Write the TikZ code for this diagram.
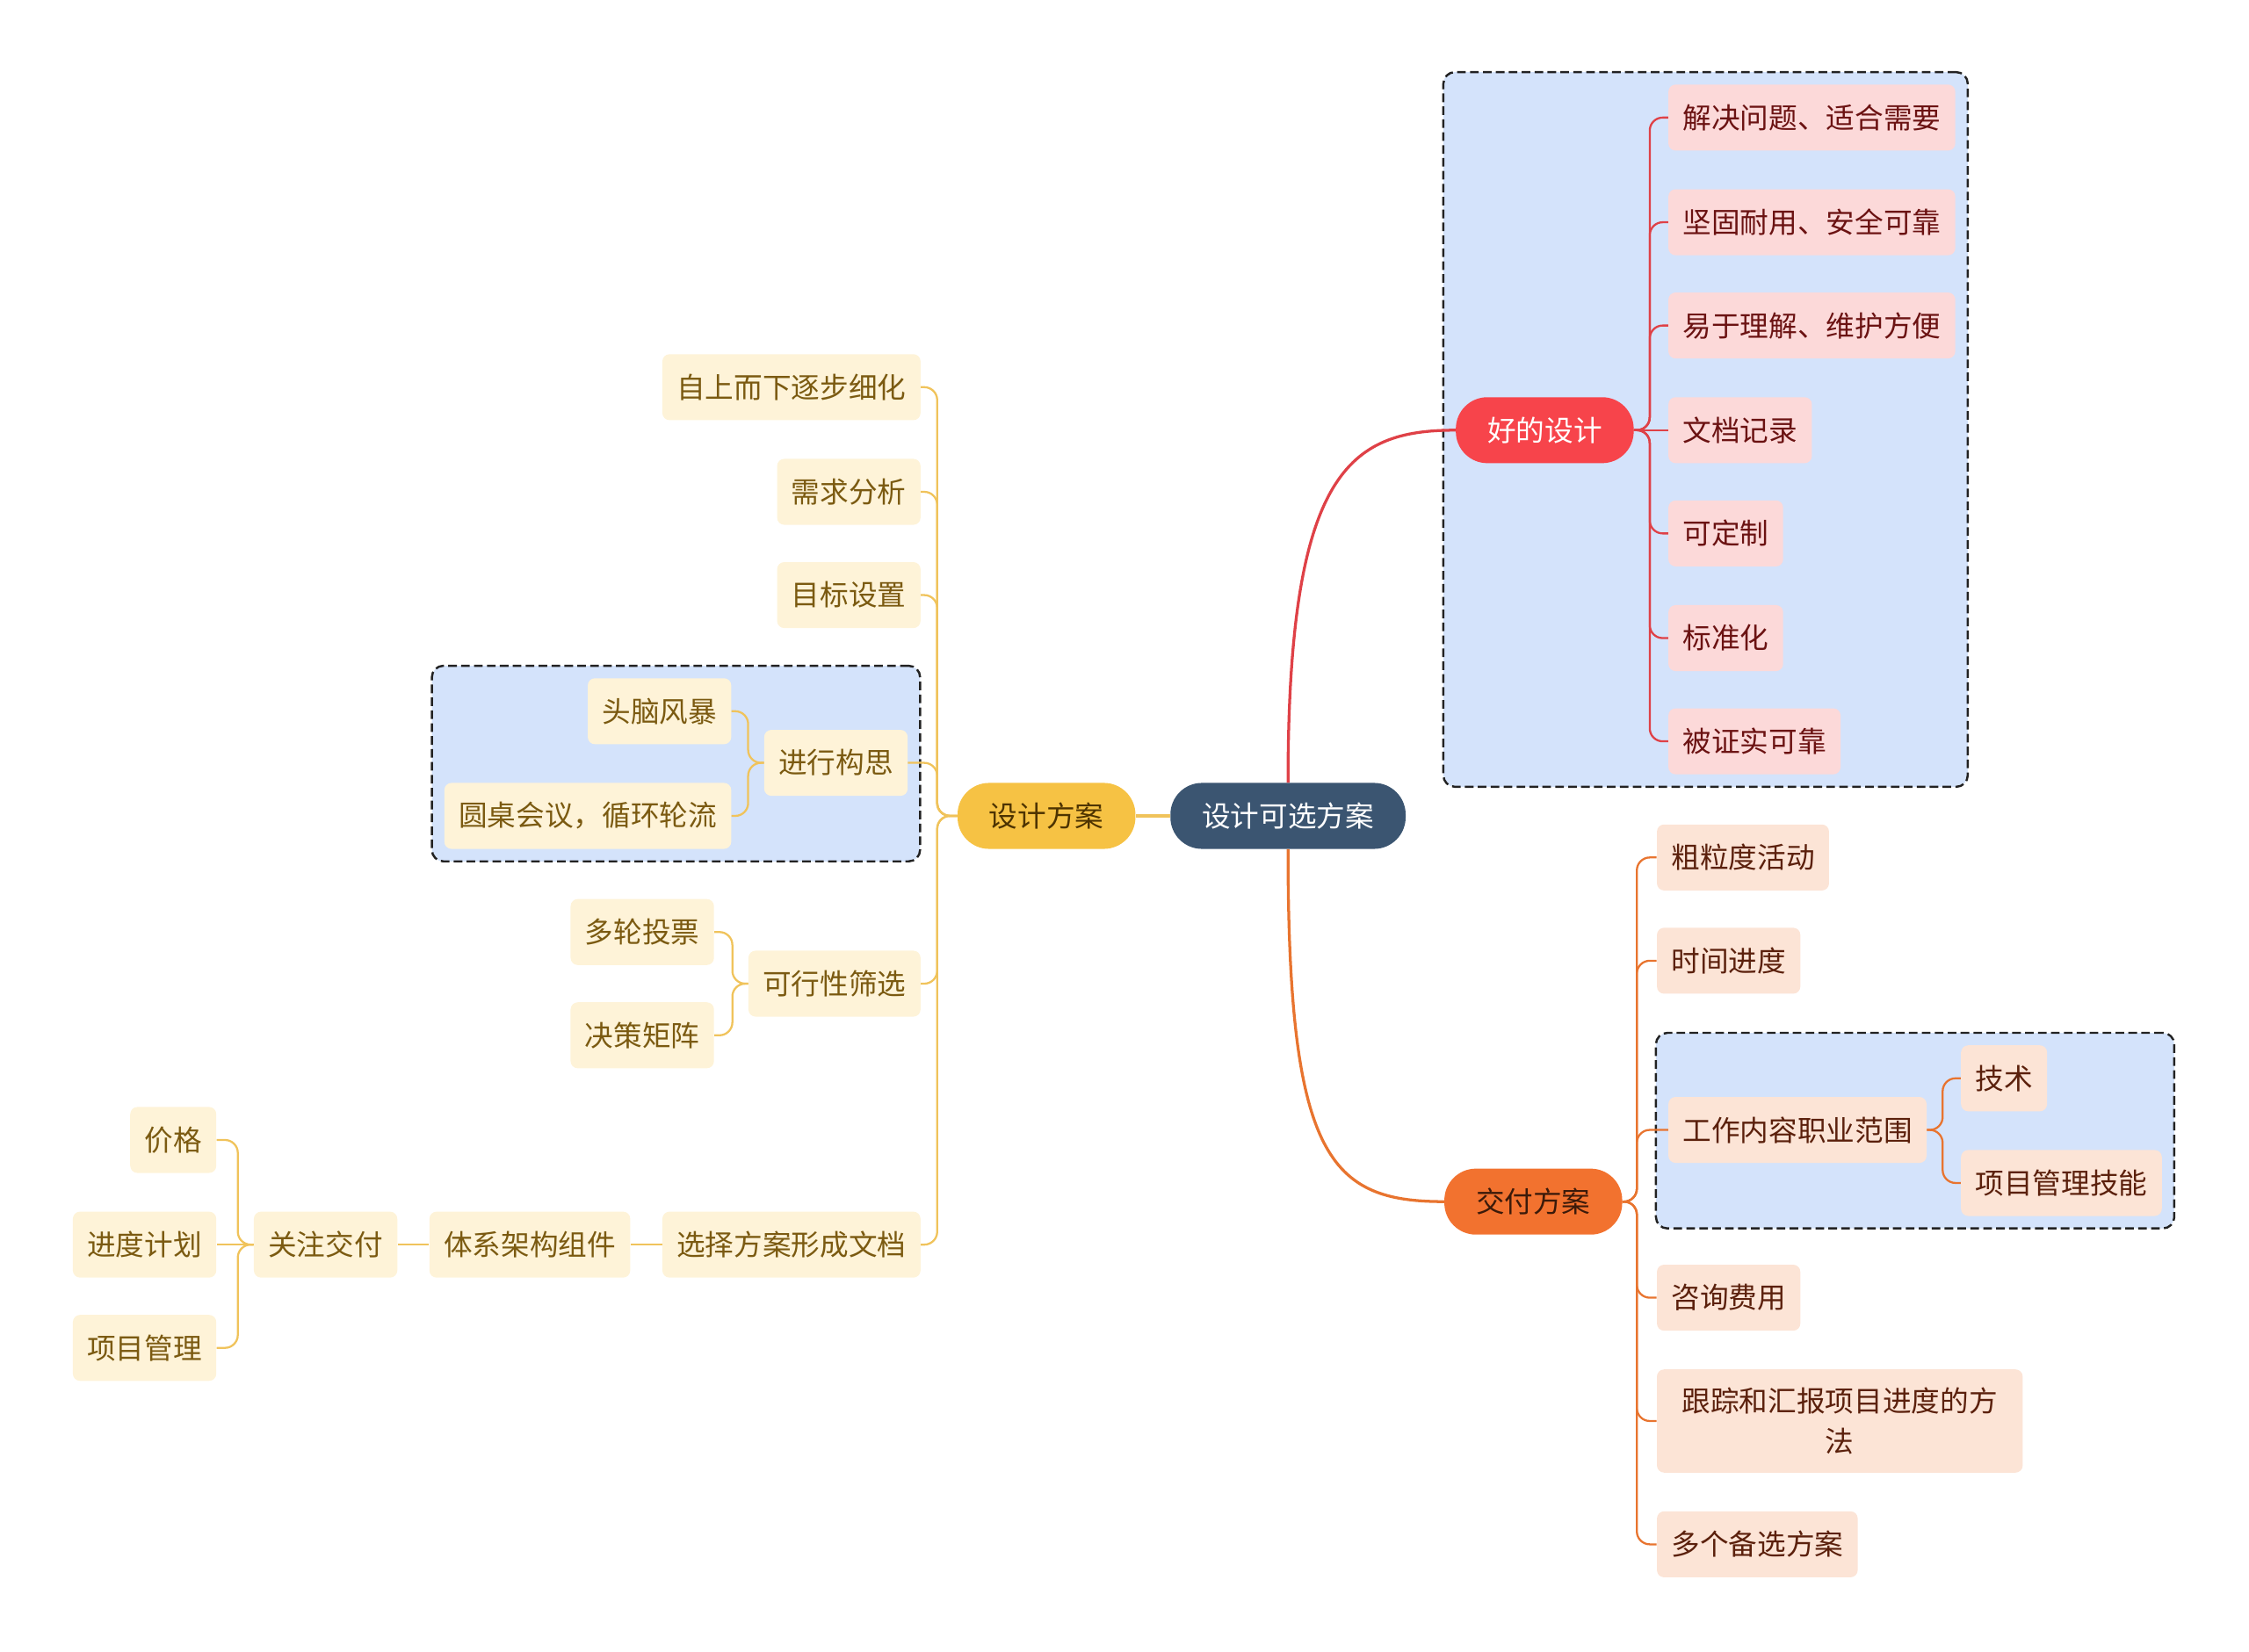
\documentclass[tikz,border=0pt]{standalone}
\usepackage{fontspec}
\setmainfont{Noto Sans CJK SC}
\usepackage{xcolor}
\usepackage{tikz}
\usetikzlibrary{positioning,fit,backgrounds}

\definecolor{rootblue}{HTML}{3B5571}
\definecolor{ymain}{HTML}{F6C244}
\definecolor{ymaintext}{HTML}{4D3300}
\definecolor{yfill}{HTML}{FEF3D8}
\definecolor{ytext}{HTML}{7B5A11}
\definecolor{yline}{HTML}{F0C35B}
\definecolor{rmain}{HTML}{F7444B}
\definecolor{rfill}{HTML}{FCD9D9}
\definecolor{rtext}{HTML}{6B1212}
\definecolor{rline}{HTML}{DF4147}
\definecolor{omain}{HTML}{F2722F}
\definecolor{omaintext}{HTML}{3B1A0A}
\definecolor{ofill}{HTML}{FCE4D6}
\definecolor{otext}{HTML}{5B200C}
\definecolor{oline}{HTML}{E8742F}
\definecolor{grpfill}{HTML}{D4E3FB}
\definecolor{grpline}{HTML}{222222}

\begin{document}
\begin{tikzpicture}[
  x=1pt, y=-1pt,
  node distance=22pt,
  font=\fontsize{20}{28}\selectfont,
  topic/.style={rounded corners=22pt, minimum height=46pt, inner xsep=22pt, inner ysep=0pt},
  leaf/.style={rounded corners=5pt, minimum height=46pt, inner xsep=10pt, inner ysep=0pt},
  yleaf/.style={leaf, fill=yfill, text=ytext},
  rleaf/.style={leaf, fill=rfill, text=rtext},
  oleaf/.style={leaf, fill=ofill, text=otext},
  link/.style={line width=1.4pt, rounded corners=9pt},
  ylink/.style={link, draw=yline},
  rlink/.style={link, draw=rline},
  olink/.style={link, draw=oline},
  grp/.style={draw=grpline, fill=grpfill, dash pattern=on 6pt off 3pt, line width=1.5pt, rounded corners=8pt, inner sep=8.5pt}
]
\useasboundingbox (0,0) rectangle (1568,1152);

% centre
\node[topic, fill=rootblue, text=white] (root) at (898,569) {设计可选方案};
\node[topic, fill=ymain, text=ymaintext, left=24pt of root] (design) {设计方案};
\node[topic, fill=rmain, text=white] (good) at (1077,300) {好的设计};
\node[topic, fill=omain, text=omaintext] (deliver) at (1069,838) {交付方案};

% good design
\node[rleaf, anchor=west] (solve) at (1163,82) {解决问题、适合需要};
\node[rleaf, anchor=west] (firm) at (1163,155) {坚固耐用、安全可靠};
\node[rleaf, anchor=west] (easy) at (1163,227) {易于理解、维护方便};
\node[rleaf, anchor=west] (docrec) at (1163,300) {文档记录};
\node[rleaf, anchor=west] (custom) at (1163,372) {可定制};
\node[rleaf, anchor=west] (standard) at (1163,445) {标准化};
\node[rleaf, anchor=west] (proven) at (1163,517) {被证实可靠};

% design plan
\node[yleaf, anchor=east] (topdown) at (642,270) {自上而下逐步细化};
\node[yleaf, anchor=east] (needs) at (642,343) {需求分析};
\node[yleaf, anchor=east] (goals) at (642,415) {目标设置};
\node[yleaf, anchor=east] (ideate) at (633,532) {进行构思};
\node[yleaf, anchor=east] (brain) at (510,496) {头脑风暴};
\node[yleaf, anchor=east] (roundtable) at (510,569) {圆桌会议，循环轮流};
\node[yleaf, anchor=east] (feasible) at (642,686) {可行性筛选};
\node[yleaf, anchor=east] (vote) at (498,650) {多轮投票};
\node[yleaf, anchor=east] (matrix) at (498,722) {决策矩阵};
\node[yleaf, anchor=east] (pickdoc) at (642,868) {选择方案形成文档};
\node[yleaf, left=of pickdoc] (arch) {体系架构组件};
\node[yleaf, left=of arch] (focus) {关注交付};
\node[yleaf, anchor=east] (price) at (151,795) {价格};
\node[yleaf, anchor=east] (schedule) at (151,868) {进度计划};
\node[yleaf, anchor=east] (pm) at (151,940) {项目管理};

% delivery plan
\node[oleaf, anchor=west] (coarse) at (1155,598) {粗粒度活动};
\node[oleaf, anchor=west] (timeline) at (1155,670) {时间进度};
\node[oleaf, anchor=west] (scope) at (1163,788) {工作内容职业范围};
\node[oleaf, anchor=west] (tech) at (1367,752) {技术};
\node[oleaf, anchor=west] (pmskill) at (1367,825) {项目管理技能};
\node[oleaf, anchor=west] (consult) at (1155,905) {咨询费用};
\node[oleaf, anchor=west, minimum width=255pt, minimum height=72pt, align=center] (track) at (1155,991) {跟踪和汇报项目进度的方\\法};
\node[oleaf, anchor=west] (alts) at (1155,1077) {多个备选方案};

\begin{scope}[on background layer]
\node[grp, fit=(good)(solve)(proven)] {};
\node[grp, fit=(brain)(roundtable)(ideate)] {};
\node[grp, fit=(scope)(tech)(pmskill)] {};
\end{scope}

\draw[ylink, line width=2pt] (root) -- (design);
\draw[rlink, line width=2pt] (root.north) .. controls +(0,-217) and +(-74,0) .. (good.west);
\draw[olink, line width=2pt] (root.south) .. controls +(0,215) and +(-80,0) .. (deliver.west);

\draw[rlink] (good.east) -- ++(11,0) |- (solve.west);
\draw[rlink] (good.east) -- ++(11,0) |- (firm.west);
\draw[rlink] (good.east) -- ++(11,0) |- (easy.west);
\draw[rlink] (good.east) -- (docrec.west);
\draw[rlink] (good.east) -- ++(11,0) |- (custom.west);
\draw[rlink] (good.east) -- ++(11,0) |- (standard.west);
\draw[rlink] (good.east) -- ++(11,0) |- (proven.west);

\draw[ylink] (design.west) -- ++(-14,0) |- (topdown.east);
\draw[ylink] (design.west) -- ++(-14,0) |- (needs.east);
\draw[ylink] (design.west) -- ++(-14,0) |- (goals.east);
\draw[ylink] (design.west) -- ++(-14,0) |- (ideate.east);
\draw[ylink] (design.west) -- ++(-14,0) |- (feasible.east);
\draw[ylink] (design.west) -- ++(-14,0) |- (pickdoc.east);
\draw[ylink] (ideate.west) -- ++(-11,0) |- (brain.east);
\draw[ylink] (ideate.west) -- ++(-11,0) |- (roundtable.east);
\draw[ylink] (feasible.west) -- ++(-11,0) |- (vote.east);
\draw[ylink] (feasible.west) -- ++(-11,0) |- (matrix.east);
\draw[ylink] (pickdoc) -- (arch);
\draw[ylink] (arch) -- (focus);
\draw[ylink] (focus.west) -- ++(-11,0) |- (price.east);
\draw[ylink] (focus.west) -- (schedule.east);
\draw[ylink] (focus.west) -- ++(-11,0) |- (pm.east);

\draw[olink] (deliver.east) -- ++(10,0) |- (coarse.west);
\draw[olink] (deliver.east) -- ++(10,0) |- (timeline.west);
\draw[olink] (deliver.east) -- ++(10,0) |- (scope.west);
\draw[olink] (deliver.east) -- ++(10,0) |- (consult.west);
\draw[olink] (deliver.east) -- ++(10,0) |- (track.west);
\draw[olink] (deliver.east) -- ++(10,0) |- (alts.west);
\draw[olink] (scope.east) -- ++(11,0) |- (tech.west);
\draw[olink] (scope.east) -- ++(11,0) |- (pmskill.west);
\end{tikzpicture}
\end{document}
